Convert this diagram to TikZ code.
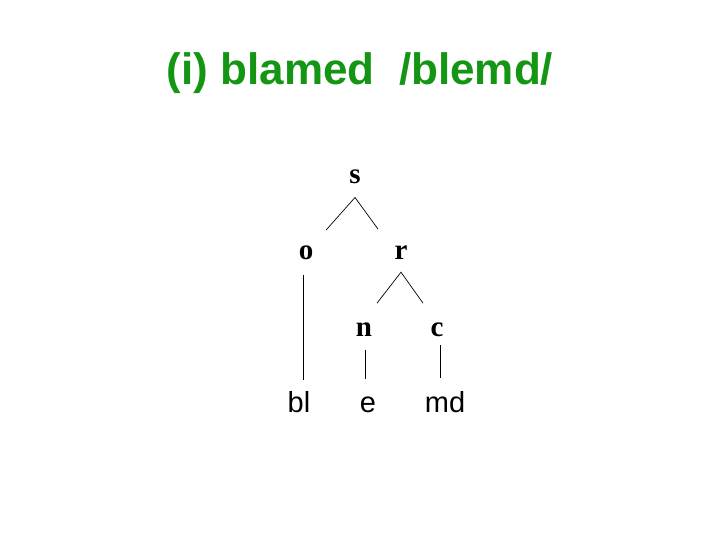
\documentclass[tikz,border=0pt]{standalone}
\usepackage{fontspec}
\setmainfont{Liberation Serif}
\setsansfont{Liberation Sans}
\usepackage{xcolor}
\usetikzlibrary{calc}
\definecolor{titlegreen}{RGB}{20,150,20}
\tikzset{
    tnode/.style={font=\fontsize{29}{29}\selectfont\bfseries, inner sep=0pt, anchor=base},
    seg/.style={font=\sffamily\fontsize{29}{29}\selectfont, inner sep=0pt, anchor=base},
    branch/.style={black, line width=0.7pt}
}

\begin{document}
\begin{tikzpicture}[x=1pt, y=-1pt]
        \useasboundingbox (0,0) rectangle (720,540);
        \node[font=\sffamily\bfseries\fontsize{44}{44}\selectfont, text=titlegreen, anchor=base] (title) at (360,85) {(i) blamed\ \ /blemd/};
        % syllable tree
        \node[tnode] (s) at (355,184) {s};
        \node[tnode] (o) at (306,259) {o};
        \node[tnode] (r) at (401,259) {r};
        \node[tnode] (n) at (364,336) {n};
        \node[tnode] (c) at (437,336) {c};
        \node[seg] (bl) at (299,412) {bl};
        \node[seg] (e) at (368,412) {e};
        \node[seg] (md) at (445,412) {md};
        \draw[branch] ($(o.north)+(20,-15)$) -- ($(s.south)+(0,13)$) -- ($(r.north)+(-23,-16)$);
        \draw[branch] ($(n.north)+(13,-19)$) -- ($(r.south)+(0,13)$) -- ($(c.north)+(-14,-19)$);
        \draw[branch] ($(o.south)+(-3,16)$) -- ($(o.south |- bl.north)+(-3,-11)$);
        \draw[branch] ($(n.south)+(1,14)$) -- ($(n.south |- e.north)+(1,-17)$);
        \draw[branch] ($(c.south)+(3,9)$) -- ($(c.south |- md.north)+(3,-13)$);
    \end{tikzpicture}
\end{document}
